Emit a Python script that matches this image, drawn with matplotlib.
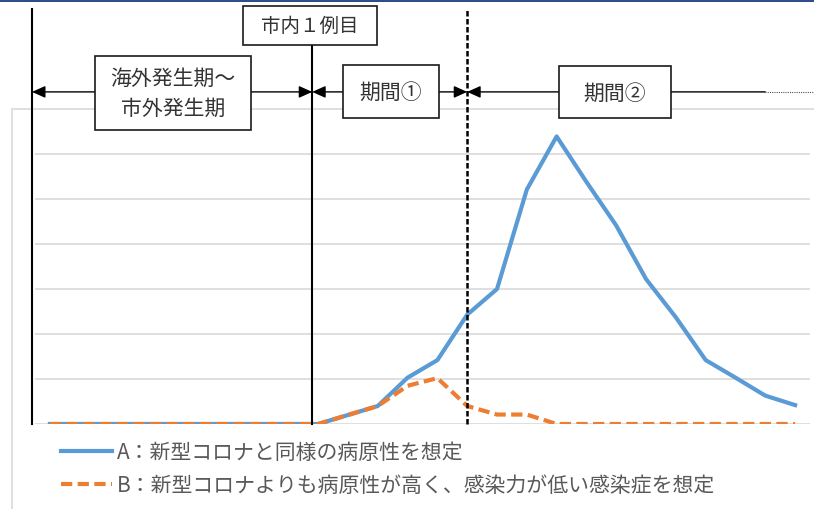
import numpy as np
import matplotlib.pyplot as plt
from matplotlib.patches import Rectangle

plt.rcParams['font.family'] = ['Noto Sans CJK JP', 'DejaVu Sans']

# 26 time steps, no axis labels in the original figure
steps = np.arange(26)
case_a = [0, 0, 0, 0, 0, 0, 0, 0, 0, 0,
          0.2, 0.4, 1.03, 1.42, 2.43, 3.0, 5.21, 6.39, 5.38, 4.41,
          3.22, 2.37, 1.42, 1.03, 0.63, 0.42]
case_b = [0, 0, 0, 0, 0, 0, 0, 0, 0, 0,
          0.2, 0.4, 0.85, 1.02, 0.4, 0.21, 0.21, 0, 0, 0,
          0, 0, 0, 0, 0, 0]
label_a = 'A：新型コロナと同様の病原性を想定'
label_b = 'B：新型コロナよりも病原性が高く、感染力が低い感染症を想定'

# phase boundaries, in category units
x_start = -0.6
x_first_case = 8.8
x_period2 = 14
x_solid_end = 24
x_right = 26

W, H = 814, 510
fig = plt.figure(figsize=(W / 100, H / 100), dpi=100)

# outer chart frame (light gray, runs off the right/bottom edge)
fig.add_artist(Rectangle((12 / W, -0.02), 1.0, 1 - 110 / H + 0.02, transform=fig.transFigure,
                         fill=False, ec='#d9d9d9', lw=1.2, zorder=-1))
# thin navy strip at the very top
fig.add_artist(Rectangle((0, 1 - 3 / H), 1, 3 / H, transform=fig.transFigure,
                         fc='#2e4d8c', ec='none'))

ax = fig.add_axes([35 / W, 1 - 425 / H, 775 / W, 315 / H])
ax.patch.set_visible(False)
ax.set_xlim(-0.5, 25.5)
ax.set_ylim(0, 7)
ax.set_yticks(range(0, 7))
ax.yaxis.grid(True, color='#d9d9d9', lw=1.2)
ax.set_axisbelow(True)
ax.tick_params(length=0, labelleft=False, labelbottom=False)
ax.set_xticks([])
for s in ax.spines.values():
    s.set_visible(False)

ax.plot(steps, case_a, color='#5b9bd5', lw=3, label=label_a, zorder=3)
ax.plot(steps, case_b, color='#ed7d31', lw=3, dashes=(2.7, 1.3), label=label_b, zorder=4)

# vertical phase lines
ax.plot([x_start, x_start], [0, 9.22], color='k', lw=1.5, clip_on=False, zorder=5)
ax.plot([x_first_case, x_first_case], [0, 9.0], color='k', lw=1.5, clip_on=False, zorder=5)
ax.plot([x_period2, x_period2], [0, 9.22], color='k', lw=1.8, dashes=(2.2, 1.0),
        clip_on=False, zorder=5)

# span arrows
y_arr = 7.38
aprops = dict(color='k', lw=1, shrinkA=0, shrinkB=0, mutation_scale=20)
ax.annotate('', xy=(x_start, y_arr), xytext=(x_first_case, y_arr), annotation_clip=False,
            arrowprops=dict(arrowstyle='<|-|>,head_length=0.4,head_width=0.18', **aprops), zorder=5)
ax.annotate('', xy=(x_first_case, y_arr), xytext=(x_period2, y_arr), annotation_clip=False,
            arrowprops=dict(arrowstyle='<|-|>,head_length=0.4,head_width=0.18', **aprops), zorder=5)
ax.annotate('', xy=(x_period2, y_arr), xytext=(x_solid_end, y_arr), annotation_clip=False,
            arrowprops=dict(arrowstyle='-|>,head_length=0.4,head_width=0.18', **aprops), zorder=5)
ax.plot([x_solid_end, x_right], [y_arr, y_arr], color='#555555', lw=0.8, ls=(0, (1, 1)),
        clip_on=False, zorder=5)


def box(xc, yc, w, h, text, fs=15, ls=1.2):
    ax.add_patch(Rectangle((xc - w / 2, yc - h / 2), w, h, fc='white', ec='#1a1a1a',
                           lw=1.2, clip_on=False, zorder=6))
    ax.text(xc, yc, text, ha='center', va='center', fontsize=fs, color='#333333',
            linespacing=ls, zorder=7)


box(4.13, 7.36, 5.23, 1.64, '海外発生期～\n市外発生期', ls=1.45)
box(8.72, 8.86, 4.5, 0.87, '市内１例目', fs=14)
box(11.44, 7.39, 3.22, 1.16, '期間①')
box(18.96, 7.37, 3.76, 1.16, '期間②')

ax.legend(loc='upper left', bbox_to_anchor=(61 / W, 1 - 442 / H), bbox_transform=fig.transFigure,
          frameon=False, fontsize=15, handlelength=2.45, handletextpad=0.25,
          labelspacing=0.55, borderpad=0, borderaxespad=0, labelcolor='#595959')

fig.savefig('out.png', dpi=100)
